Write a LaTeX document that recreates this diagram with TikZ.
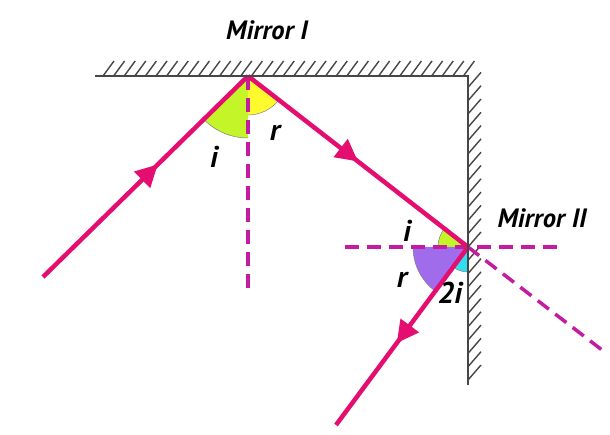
\documentclass[tikz,border=0pt]{standalone}
\usepackage{fontspec}
\setmainfont{PT Sans}
\usetikzlibrary{arrows.meta,decorations.markings}
\definecolor{ray}{RGB}{228,14,112}
\definecolor{norm}{RGB}{196,28,160}
\definecolor{mir}{RGB}{70,70,70}
\definecolor{secG}{RGB}{196,245,40}
\definecolor{secY}{RGB}{255,250,45}
\definecolor{secP}{RGB}{160,108,236}
\definecolor{secC}{RGB}{48,222,240}
\begin{document}
\begin{tikzpicture}[x=1pt,y=1pt,
  lbl/.style={font=\fontsize{26.5}{30}\selectfont\bfseries\itshape, inner sep=0pt},
  ang/.style={font=\fontsize{30}{34}\selectfont\bfseries\itshape, inner sep=0pt},
  rayline/.style={draw=ray, line width=4.5pt, line join=round},
  normline/.style={draw=norm, line width=3.5pt, dash pattern=on 14pt off 8pt},
  mirline/.style={draw=mir, line width=2pt},
  hatch/.style={draw=mir, line width=1.4pt},
  midarrow/.style={postaction={decorate}, decoration={markings, mark=at position #1 with {\arrow[ray]{Triangle[length=22pt,width=22pt]}}}},
  arcline/.style={draw=gray, line width=0.5pt}
]
\useasboundingbox (0,0) rectangle (610,434);
% key points
\coordinate (S) at (43,157);
\coordinate (P1) at (248,358);
\coordinate (P2) at (468,187);
\coordinate (E) at (336,9);
\coordinate (D) at (602,84);
\coordinate (N1) at (248,142);
\coordinate (HL) at (345,187);
\coordinate (HR) at (557,187);
\coordinate (ML) at (95,358);
\coordinate (MC) at (468,358);
\coordinate (MB) at (468,49);
% hatching
\foreach \k in {0,...,34} \draw[hatch] ({103+10.6*\k},358) -- ++(11,15);
\foreach \k in {0,...,22} \draw[hatch] (468,{54+13.3*\k}) -- ++(13,15);
% angle sectors at P1
\fill[secG] (P1) -- ++(224.4:62) arc[start angle=224.4, end angle=270, radius=62] -- cycle;
\draw[arcline] (P1) ++(224.4:62) arc[start angle=224.4, end angle=270, radius=62];
\fill[secY] (P1) -- ++(270:39) arc[start angle=270, end angle=322.1, radius=39] -- cycle;
\draw[arcline] (P1) ++(270:39) arc[start angle=270, end angle=322.1, radius=39];
% angle sectors at P2
\fill[secG] (P2) -- ++(142.1:30) arc[start angle=142.1, end angle=180, radius=30] -- cycle;
\draw[arcline] (P2) ++(142.1:30) arc[start angle=142.1, end angle=180, radius=30];
\fill[secP] (P2) -- ++(180:55) arc[start angle=180, end angle=233.4, radius=55] -- cycle;
\draw[arcline] (P2) ++(180:55) arc[start angle=180, end angle=233.4, radius=55];
\fill[secC] (P2) -- ++(233.4:25) arc[start angle=233.4, end angle=270, radius=25] -- cycle;
\draw[arcline] (P2) ++(233.4:25) arc[start angle=233.4, end angle=270, radius=25];
% normals and extension
\draw[normline] (P1) -- (N1);
\draw[normline] (HL) -- (HR);
\draw[normline] (P2) -- (D);
% rays
\draw[rayline, midarrow=0.56] (S) -- (P1);
\draw[rayline, midarrow=0.5] (P1) -- (P2);
\draw[rayline, midarrow=0.54] (P2) -- (E);
% mirrors
\draw[mirline] (ML) -- (MC) -- (MB);
% labels
\node[lbl] (m1) at (267,404) {Mirror I};
\node[lbl] (m2) at (542,216) {Mirror II};
\node[ang] (i1) at (214,277) {i};
\node[ang] (r1) at (275,301) {r};
\node[ang] (i2) at (407,203) {i};
\node[ang] (r2) at (402,154) {r};
\node[ang] (t2) at (450,141) {2i};
\end{tikzpicture}
\end{document}
